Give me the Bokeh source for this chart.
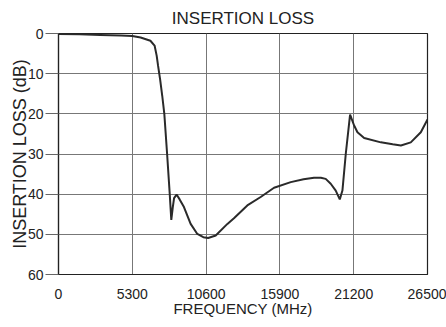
from bokeh.plotting import figure
from bokeh.models import Range1d, FixedTicker
from bokeh.embed import file_html
from bokeh.resources import INLINE

freq_mhz = [0, 1500, 3000, 4500, 5300, 5900, 6600, 6900, 7050, 7150, 7300, 7450,
            7600, 7800, 7980, 8100, 8200, 8300, 8480, 8700, 9010, 9490, 9970, 10400,
            10750, 11290, 12130, 12600, 13560, 14520, 15480, 16680, 17600, 18350,
            18840, 19190, 19550, 19910, 20200, 20390, 20630, 20940, 21230, 21470,
            21950, 23150, 24000, 24590, 25300, 26020, 26500]
loss_db = [0.1, 0.2, 0.35, 0.5, 0.6, 1.0, 1.8, 3.0, 5.5, 8.0, 11.5, 15.5,
           20, 30, 39.5, 46.4, 43.5, 41, 40.1, 41.3, 43.2, 47.4, 49.9, 50.7,
           50.9, 50.3, 47.4, 46, 42.8, 40.7, 38.4, 37, 36.3, 35.9,
           35.9, 36.2, 37.4, 39.1, 41.3, 39.1, 30, 20.2, 22.9, 24.6,
           26, 27.1, 27.6, 27.9, 27.1, 24.6, 21.4]
x_ticks = [0, 5300, 10600, 15900, 21200, 26500]
y_ticks = [0, 10, 20, 30, 40, 50, 60]

FONT = "Liberation Sans"

p = figure(frame_width=369, frame_height=241, output_backend="svg", toolbar_location=None,
           x_range=Range1d(0, 26500), y_range=Range1d(60, 0),
           min_border_left=58, min_border_right=19, min_border_top=33,
           min_border_bottom=50, title="INSERTION LOSS")

p.title.text_font = FONT
p.title.text_font_size = "17px"
p.title.text_font_style = "normal"
p.title.text_color = "#222222"
p.title.align = "center"
p.title.standoff = 12

p.outline_line_color = "#222222"
p.outline_line_width = 1.2

p.line(freq_mhz, loss_db, line_color="#2a2a2a", line_width=2)

p.xaxis.ticker = FixedTicker(ticks=x_ticks)
p.yaxis.ticker = FixedTicker(ticks=y_ticks)
p.xgrid.ticker = FixedTicker(ticks=x_ticks)
p.ygrid.ticker = FixedTicker(ticks=y_ticks)
p.xgrid.grid_line_color = "#777777"
p.ygrid.grid_line_color = "#777777"
p.xgrid.grid_line_width = 1
p.ygrid.grid_line_width = 1

for ax in (p.xaxis[0], p.yaxis[0]):
    ax.axis_line_color = "#222222"
    ax.axis_line_width = 1.2
    ax.minor_tick_line_color = None
    ax.major_label_text_font = FONT
    ax.major_label_text_font_size = "14px"
    ax.major_label_text_color = "#222222"
    ax.axis_label_text_font = FONT
    ax.axis_label_text_font_style = "normal"
    ax.axis_label_text_color = "#222222"

p.xaxis.axis_label = "FREQUENCY (MHz)"
p.xaxis.axis_label_text_font_size = "15px"
p.xaxis.major_tick_out = 0
p.xaxis.major_tick_in = 0
p.xaxis.major_label_standoff = 14
p.xaxis.axis_label_standoff = -2

p.yaxis.axis_label = "INSERTION LOSS (dB)"
p.yaxis.axis_label_text_font_size = "18px"
p.yaxis.major_tick_out = 13
p.yaxis.major_tick_in = 0
p.yaxis.major_tick_line_color = "#666666"
p.yaxis.major_label_standoff = 2
p.yaxis.axis_label_standoff = -5

open("out.html", "w").write(file_html(p, INLINE))
